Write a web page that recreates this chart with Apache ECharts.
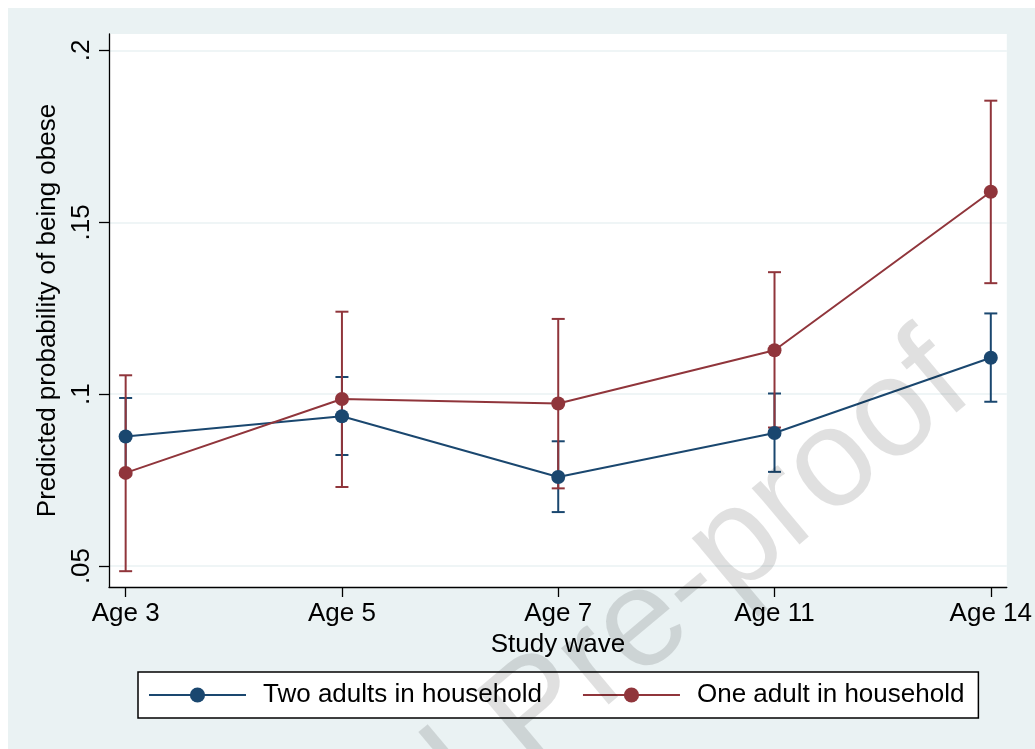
<!DOCTYPE html>
<html>
<head>
<meta charset="utf-8">
<script src="https://cdn.jsdelivr.net/npm/echarts@6/dist/echarts.min.js"></script>
<style>
  html, body { margin: 0; padding: 0; background: #fff; }
  #chart { width: 1035px; height: 749px; }
</style>
</head>
<body>
<div id="chart"></div>
<script>
// study waves on the x axis
const waves = ['Age 3', 'Age 5', 'Age 7', 'Age 11', 'Age 14']
const waveIdx = [0, 1, 2, 3, 4]
// y tick values
const yTicks = [0.05, 0.1, 0.15, 0.2]

// two adults in household: estimate + 95% CI
const twoAdults = [0.0877, 0.0936, 0.0759, 0.0887, 0.1106]
const twoLow = [0.0766, 0.0823, 0.0657, 0.0774, 0.0978]
const twoHigh = [0.0989, 0.1050, 0.0863, 0.1002, 0.1235]

// one adult in household: estimate + 95% CI
const oneAdult = [0.0771, 0.0986, 0.0973, 0.1128, 0.1589]
const oneLow = [0.0485, 0.0730, 0.0726, 0.0903, 0.1323]
const oneHigh = [0.1055, 0.1240, 0.1219, 0.1355, 0.1854]

const BLUE = '#1a476f'
const RED = '#90353b'
const BG = '#eaf2f3'
const FONT = '"Liberation Sans", Arial, Helvetica, sans-serif'
const FS = 26

const chart = echarts.init(document.getElementById('chart'))

function ciData(low, high) {
  return waveIdx.map((x, i) => [x, low[i], high[i]])
}
function lineData(vals) {
  return waveIdx.map((x, i) => [x, vals[i]])
}

function ciSeries(name, color, low, high) {
  return {
    name: name,
    type: 'custom',
    data: ciData(low, high),
    encode: {x: 0, y: [1, 2]},
    silent: true,
    renderItem: function (params, api) {
      const x = api.value(0)
      const top = api.coord([x, api.value(2)])
      const bot = api.coord([x, api.value(1)])
      const hw = 6.5
      const style = {stroke: color, lineWidth: 2, fill: null}
      return {
        type: 'group',
        children: [
          {type: 'line', shape: {x1: top[0], y1: top[1], x2: bot[0], y2: bot[1]}, style: style},
          {type: 'line', shape: {x1: top[0] - hw, y1: top[1], x2: top[0] + hw, y2: top[1]}, style: style},
          {type: 'line', shape: {x1: bot[0] - hw, y1: bot[1], x2: bot[0] + hw, y2: bot[1]}, style: style}
        ]
      }
    }
  }
}

function lineSeries(name, color, vals) {
  return {
    name: name,
    type: 'line',
    data: lineData(vals),
    symbol: 'circle',
    symbolSize: 14,
    lineStyle: {color: color, width: 2},
    itemStyle: {color: color},
    emphasis: {disabled: true},
    z: 5
  }
}

const option = {
  backgroundColor: '#fff',
  animation: false,
  textStyle: {fontFamily: FONT},
  graphic: [
    {
      type: 'rect',
      z: -10,
      silent: true,
      shape: {x: 8, y: 8, width: 1040, height: 760},
      style: {fill: BG}
    },
    {
      // "Journal Pre-proof" watermark over the figure
      type: 'text',
      z: 100,
      silent: true,
      x: 952,
      y: 366,
      rotation: 40 * Math.PI / 180,
      style: {
        text: 'Journal Pre-proof',
        font: '140px ' + FONT,
        fill: 'rgba(0,0,0,0.12)',
        align: 'right',
        verticalAlign: 'middle'
      }
    }
  ],
  grid: {
    left: 109,
    right: 28,
    top: 34,
    bottom: 162,
    show: true,
    backgroundColor: '#fff',
    borderWidth: 0
  },
  legend: {
    data: ['Two adults in household', 'One adult in household'],
    left: 138,
    top: 672,
    orient: 'horizontal',
    padding: [10, 14, 10, 10],
    itemGap: 40,
    itemWidth: 97,
    itemHeight: 19,
    backgroundColor: '#fff',
    borderColor: '#000',
    borderWidth: 1.5,
    borderRadius: 0,
    selectedMode: false,
    textStyle: {fontSize: FS, color: '#000', fontFamily: FONT, padding: [0, 0, 0, 12]}
  },
  xAxis: {
    type: 'value',
    min: -0.077,
    max: 4.074,
    name: 'Study wave',
    nameLocation: 'middle',
    nameGap: 40,
    nameTextStyle: {fontSize: FS, color: '#000', fontFamily: FONT},
    axisLine: {show: true, onZero: false, lineStyle: {color: '#000', width: 1.3}},
    axisTick: {show: true, length: 10, customValues: waveIdx, lineStyle: {color: '#000', width: 1.3}},
    axisLabel: {
      customValues: waveIdx,
      margin: 14,
      fontSize: FS,
      color: '#000',
      fontFamily: FONT,
      formatter: v => waves[Math.round(v)]
    },
    splitLine: {show: false}
  },
  yAxis: {
    type: 'value',
    min: 0.0439,
    max: 0.2048,
    name: 'Predicted probability of being obese',
    nameLocation: 'middle',
    nameGap: 38,
    nameRotate: 90,
    nameTextStyle: {fontSize: FS, color: '#000', fontFamily: FONT},
    axisLine: {show: true, onZero: false, lineStyle: {color: '#000', width: 1.3}},
    axisTick: {show: true, length: 10, customValues: yTicks, lineStyle: {color: '#000', width: 1.3}},
    axisLabel: {
      customValues: yTicks,
      rotate: 90,
      margin: 14,
      fontSize: FS,
      color: '#000',
      fontFamily: FONT,
      formatter: v => String(+v.toFixed(2)).replace(/^0/, '')
    },
    splitLine: {show: true, lineStyle: {color: BG, width: 1.5}}
  },
  series: [
    ciSeries('Two adults CI', BLUE, twoLow, twoHigh),
    ciSeries('One adult CI', RED, oneLow, oneHigh),
    lineSeries('Two adults in household', BLUE, twoAdults),
    lineSeries('One adult in household', RED, oneAdult)
  ]
}

chart.setOption(option)
</script>
</body>
</html>
